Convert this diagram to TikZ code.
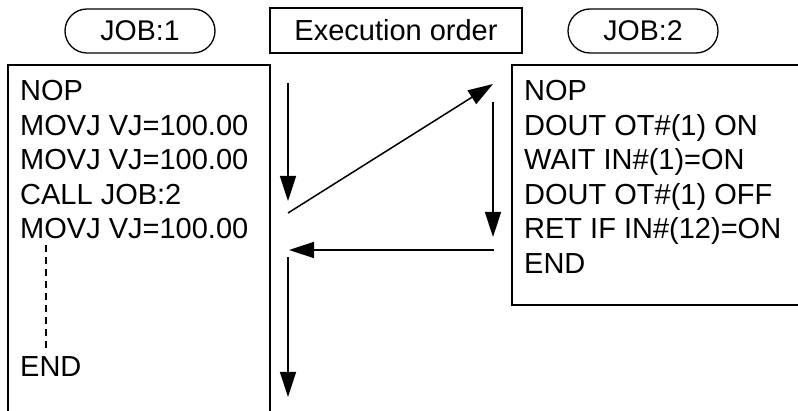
\documentclass[tikz,border=0pt]{standalone}
\usepackage{fontspec}
\setmainfont{Liberation Sans}
\usetikzlibrary{arrows.meta}
\begin{document}
\begin{tikzpicture}[x=1pt,y=-1pt,
  txt/.style={anchor=base west,inner sep=0pt,font=\fontsize{29}{34}\selectfont},
  pill/.style={draw,line width=1.3pt,rounded corners=22pt,minimum width=150pt,minimum height=44pt,inner sep=0pt,font=\fontsize{28.5}{34}\selectfont},
  tbox/.style={draw,line width=1.3pt,minimum width=252pt,minimum height=45pt,inner sep=0pt,font=\fontsize{29}{34}\selectfont},
  frame/.style={line width=1.3pt},
  flow/.style={line width=1.5pt,-{Triangle[length=25pt,width=16pt]}}]
\useasboundingbox (0,0) rectangle (798,411);
% headers
\node[pill] (job1) at (140,31) {JOB:1};
\node[tbox] (exec) at (396,30.5) {Execution order};
\node[pill] (job2) at (643,31) {JOB:2};
% frames
\draw[frame] (8,412) -- (8,65) -- (270,65) -- (270,412);
\draw[frame] (799,65) -- (512,65) -- (512,305) -- (799,305);
% JOB:1 text
\node[txt] (a1) at (20,101) {NOP};
\node[txt] (a2) at (20,135.5) {MOVJ VJ=100.00};
\node[txt] (a3) at (20,170) {MOVJ VJ=100.00};
\node[txt] (a4) at (20,204.5) {CALL JOB:2};
\node[txt] (a5) at (20,239) {MOVJ VJ=100.00};
\node[txt] (a6) at (20,377) {END};
\coordinate (ds) at (46,245);
\coordinate (de) at (46,353);
\draw[line width=1.2pt,dash pattern=on 7pt off 5pt] (ds) -- (de);
% JOB:2 text
\node[txt] (b1) at (524,101) {NOP};
\node[txt] (b2) at (524,135.5) {DOUT OT\#(1) ON};
\node[txt] (b3) at (524,170) {WAIT IN\#(1)=ON};
\node[txt] (b4) at (524,204.5) {DOUT OT\#(1) OFF};
\node[txt] (b5) at (524,239) {RET IF IN\#(12)=ON};
\node[txt] (b6) at (524,273.5) {END};
% flow arrows
\coordinate (p1) at (288,83);
\coordinate (p2) at (288,201);
\coordinate (p3) at (288,213);
\coordinate (p4) at (493,84);
\coordinate (p5) at (493,102);
\coordinate (p6) at (493,237);
\coordinate (p7) at (494,250);
\coordinate (p8) at (289,250);
\coordinate (p9) at (288,257);
\coordinate (p10) at (288,397);
\draw[flow] (p1) -- (p2);
\draw[flow] (p3) -- (p4);
\draw[flow] (p5) -- (p6);
\draw[flow] (p7) -- (p8);
\draw[flow] (p9) -- (p10);
\end{tikzpicture}
\end{document}
